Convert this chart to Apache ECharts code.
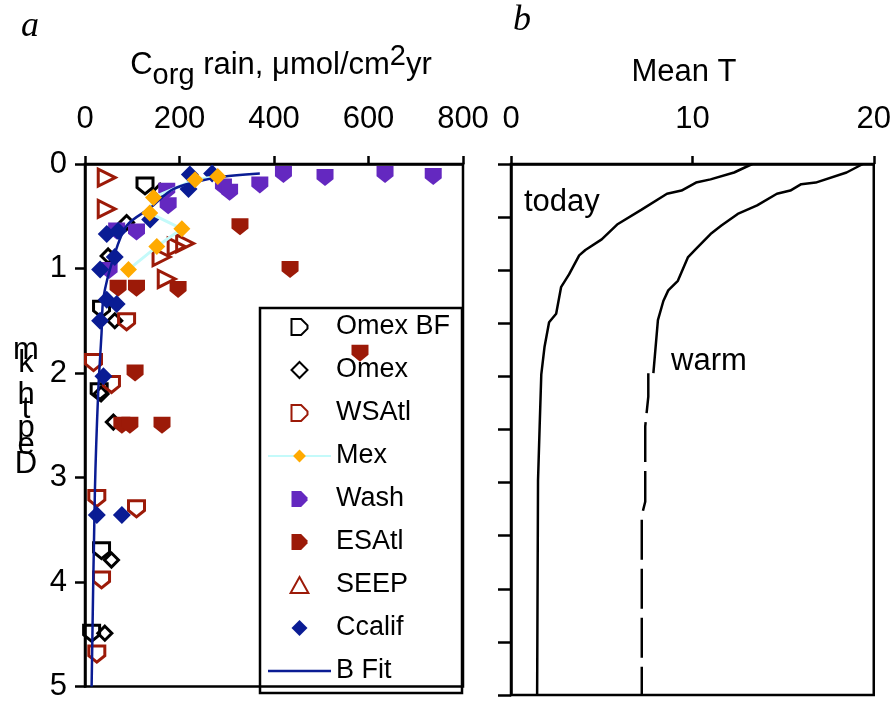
<!DOCTYPE html>
<html><head><meta charset="utf-8">
<script src="https://cdn.jsdelivr.net/npm/echarts@6/dist/echarts.min.js"></script>
<style>html,body{margin:0;padding:0;background:#fff}#c{width:894px;height:702px}</style>
</head><body><div id="c"></div>
<script>
// ---- Panel a: Corg rain (umol/cm2/yr) vs depth (km) ----
const rainTicks = [0, 200, 400, 600, 800];
const depthTicks = [0, 1, 2, 3, 4, 5];
const omexBF = [[127,0.21],[35,1.39],[30,2.18],[35,3.70],[14,4.49]];
const omex = [[159,0.26],[88,0.56],[49,0.88],[63,1.50],[34,2.20],[60,2.47],[56,3.79],[42,4.49]];
const wsatl = [[88,1.51],[18,1.90],[56,2.11],[25,3.20],[109,3.30],[35,3.98],[25,4.69]];
const mex = [[281,0.12],[233,0.15],[145,0.32],[137,0.47],[205,0.62],[152,0.79],[92,1.01]];
const wash = [[173,0.26],[176,0.40],[109,0.65],[67,0.64],[51,1.02],[293,0.22],[306,0.27],[370,0.20],[420,0.10],[508,0.13],[635,0.10],[737,0.12]];
const esatl = [[328,0.60],[434,1.01],[70,1.19],[109,1.19],[197,1.20],[582,1.81],[106,2.00],[78,2.50],[95,2.50],[163,2.50]];
const seep = [[46,0.13],[46,0.43],[212,0.76],[194,0.79],[162,0.89],[173,1.10]];
const ccalif = [[222,0.10],[269,0.09],[219,0.24],[138,0.53],[46,0.67],[70,0.64],[63,0.89],[32,1.01],[46,1.30],[67,1.34],[32,1.50],[39,2.03],[25,3.36],[78,3.36]];
const bFit = [[370,0.09],[279,0.13],[187,0.24],[138,0.42],[88,0.59],[60,0.90],[39,1.28],[35,1.62],[28,2.18],[21,3.12],[14,5.0]];
// ---- Panel b: Mean T vs depth ----
const tempTicks = [0, 10, 20];
const today = [[13.3,0],[12.3,0.08],[11.0,0.145],[10.2,0.175],[9.4,0.25],[8.6,0.28],[7.2,0.43],[5.85,0.57],[5.0,0.71],[4.1,0.81],[3.76,0.86],[3.2,1.04],[2.76,1.16],[2.49,1.41],[2.1,1.49],[1.85,1.72],[1.67,1.98],[1.58,2.47],[1.49,2.98],[1.44,5.0]];
const warmSolid = [[19.4,0],[18.5,0.08],[16.8,0.175],[16.0,0.19],[15.4,0.25],[14.66,0.28],[13.57,0.39],[12.5,0.47],[11.6,0.58],[11.0,0.66],[10.2,0.80],[9.75,0.88],[9.2,1.10],[8.67,1.19],[8.4,1.29],[8.1,1.47],[7.85,1.97]];
const warmDashed = [[7.57,1.97],[7.57,2.19],[7.40,2.47],[7.40,3.18],[7.21,3.31],[7.21,5.0]];

const FONT = "'Liberation Sans', Arial, sans-serif";
const RED = '#9c1a08', NAVY = '#0a1c94', PURPLE = '#6428c0', ORANGE = '#ffaa00', CYAN = '#c4fafa';
const SHIELD = 'path://M0,0 L10,0 L10,6 L5,10 L0,6 Z';
const DSHAPE = 'path://M0,0 L6,0 L10,4 L10,6 L6,10 L0,10 Z';
const DIAMOND = 'path://M5,0 L10,5 L5,10 L0,5 Z';
const TRI = 'path://M5,0 L10,9 L0,9 Z';
const HLINE = 'path://M0,0 L63,0 L63,2.5 L0,2.5 Z';

const chart = echarts.init(document.getElementById('c'), null, {renderer: 'canvas'});
const axisLine = {show: true, lineStyle: {color: '#000', width: 2.5}};
const grids = [
  {left: 85, top: 164, width: 378, height: 531, show: true, borderColor: '#000', borderWidth: 2.5, backgroundColor: 'transparent'},
  {left: 511, top: 164, width: 367, height: 531, show: true, borderColor: '#000', borderWidth: 2.5, backgroundColor: 'transparent'}
];
function openSym(name, sym, color, extra) {
  return Object.assign({name, type: 'scatter', xAxisIndex: 0, yAxisIndex: 0, symbol: sym, symbolSize: 16,
    itemStyle: {color: 'rgba(255,255,255,0)', borderColor: color, borderWidth: 3, opacity: 1}}, extra || {});
}
function fillSym(name, sym, color, size, extra) {
  return Object.assign({name, type: 'scatter', xAxisIndex: 0, yAxisIndex: 0, symbol: sym, symbolSize: size,
    itemStyle: {color: color, opacity: 1}}, extra || {});
}
const option = {
  animation: false,
  backgroundColor: '#fff',
  textStyle: {fontFamily: FONT},
  grid: grids,
  xAxis: [
    {gridIndex: 0, type: 'value', position: 'top', min: rainTicks[0], max: rainTicks[rainTicks.length-1], interval: 200,
     axisLine, axisTick: {show: true, inside: false, length: 8, lineStyle: {color: '#000', width: 2.5}},
     axisLabel: {fontSize: 31, color: '#000', margin: 29, fontFamily: FONT}, splitLine: {show: false}},
    {gridIndex: 1, type: 'value', position: 'top', min: tempTicks[0], max: tempTicks[tempTicks.length-1], interval: 10,
     axisLine, axisTick: {show: true, inside: false, length: 8, lineStyle: {color: '#000', width: 2.5}},
     axisLabel: {fontSize: 31, color: '#000', margin: 29, fontFamily: FONT}, splitLine: {show: false}}
  ],
  yAxis: [
    {gridIndex: 0, type: 'value', inverse: true, min: depthTicks[0], max: depthTicks[depthTicks.length-1], interval: 1,
     axisLine, axisTick: {show: true, inside: false, length: 10, lineStyle: {color: '#000', width: 2.5}},
     axisLabel: {fontSize: 31, color: '#000', margin: 18, fontFamily: FONT}, splitLine: {show: false}},
    {gridIndex: 1, type: 'value', inverse: true, min: 0, max: 5, interval: 0.5,
     axisLine, axisTick: {show: true, inside: false, length: 13, lineStyle: {color: '#000', width: 2.5}},
     axisLabel: {show: false}, splitLine: {show: false}}
  ],
  legend: {
    orient: 'vertical', left: 267, top: 312, padding: 0, itemWidth: 63, itemHeight: 16, itemGap: 13,
    textStyle: {fontSize: 27, color: '#000', fontFamily: FONT, lineHeight: 30},
    data: [
      {name: 'Omex BF', icon: DSHAPE}, {name: 'Omex', icon: DIAMOND}, {name: 'WSAtl', icon: DSHAPE}, {name: 'Mex'},
      {name: 'Wash', icon: DSHAPE}, {name: 'ESAtl', icon: DSHAPE}, {name: 'SEEP', icon: TRI}, {name: 'Ccalif', icon: DIAMOND},
      {name: 'B Fit', icon: HLINE, itemStyle: {color: NAVY, borderWidth: 0}}
    ]
  },
  graphic: [],
  series: [
    openSym('Omex BF', SHIELD, '#000', {data: omexBF}),
    openSym('Omex', DIAMOND, '#000', {data: omex, symbolSize: 14}),
    openSym('WSAtl', SHIELD, RED, {data: wsatl}),
    {name: 'Mex', type: 'line', xAxisIndex: 0, yAxisIndex: 0, data: mex, symbol: DIAMOND, symbolSize: 17, showSymbol: true,
     lineStyle: {color: CYAN, width: 3}, itemStyle: {color: ORANGE}},
    fillSym('Wash', SHIELD, PURPLE, 17, {data: wash}),
    fillSym('ESAtl', SHIELD, RED, 17, {data: esatl}),
    openSym('SEEP', TRI, RED, {data: seep, symbolRotate: -90, symbolSize: 17}),
    fillSym('Ccalif', DIAMOND, NAVY, 18, {data: ccalif}),
    {name: 'B Fit', type: 'line', xAxisIndex: 0, yAxisIndex: 0, data: bFit, symbol: 'none', smooth: 0.3,
     lineStyle: {color: NAVY, width: 2.5}, itemStyle: {color: NAVY}},
    {name: 'today', type: 'line', xAxisIndex: 1, yAxisIndex: 1, data: today, symbol: 'none', lineStyle: {color: '#000', width: 2.5}},
    {name: 'warm', type: 'line', xAxisIndex: 1, yAxisIndex: 1, data: warmSolid, symbol: 'none', lineStyle: {color: '#000', width: 2.5}},
    {name: 'warm2', type: 'line', xAxisIndex: 1, yAxisIndex: 1, data: warmDashed, symbol: 'none', lineStyle: {color: '#000', width: 2.5, type: [40, 9]}}
  ]
};
const g = option.graphic;
g.push({type: 'rect', z: 1, shape: {x: 260, y: 308, width: 202, height: 385}, style: {fill: 'none', stroke: '#000', lineWidth: 2.5}});
g.push({type: 'text', left: 21, top: 9, style: {text: 'a', font: "italic 36px 'Liberation Serif', serif", fill: '#000'}});
g.push({type: 'text', left: 513, top: 3, style: {text: 'b', font: "italic 36px 'Liberation Serif', serif", fill: '#000'}});
g.push({type: 'text', x: 281, y: 65, style: {
  text: 'C{sub|org} rain, μmol/cm{sup|2}yr', align: 'center', verticalAlign: 'middle', fill: '#000',
  font: "31px 'Liberation Sans', Arial, sans-serif",
  rich: {sub: {fontSize: 29, fontFamily: FONT, padding: [22, 0, 0, 0]}, sup: {fontSize: 29, fontFamily: FONT, padding: [0, 0, 16, 0]}}
}});
g.push({type: 'text', x: 684, y: 72, style: {text: 'Mean T', align: 'center', verticalAlign: 'middle', fill: '#000', font: "31px 'Liberation Sans', Arial, sans-serif"}});
g.push({type: 'text', x: 524, y: 202, style: {text: 'today', align: 'left', verticalAlign: 'middle', fill: '#000', font: "31px 'Liberation Sans', Arial, sans-serif"}});
g.push({type: 'text', x: 671, y: 361, style: {text: 'warm', align: 'left', verticalAlign: 'middle', fill: '#000', font: "31px 'Liberation Sans', Arial, sans-serif"}});
// stacked vertical axis title "Depth km"
const depthLetters = [['D', 464], ['e', 445], ['p', 428], ['t', 409], ['h', 395], ['k', 363], ['m', 350]];
depthLetters.forEach(([ch, y]) => g.push({type: 'text', x: 26, y: y, style: {text: ch, align: 'center', verticalAlign: 'middle', fill: '#000', font: "31px 'Liberation Sans', Arial, sans-serif"}}));
chart.setOption(option);
</script></body></html>
